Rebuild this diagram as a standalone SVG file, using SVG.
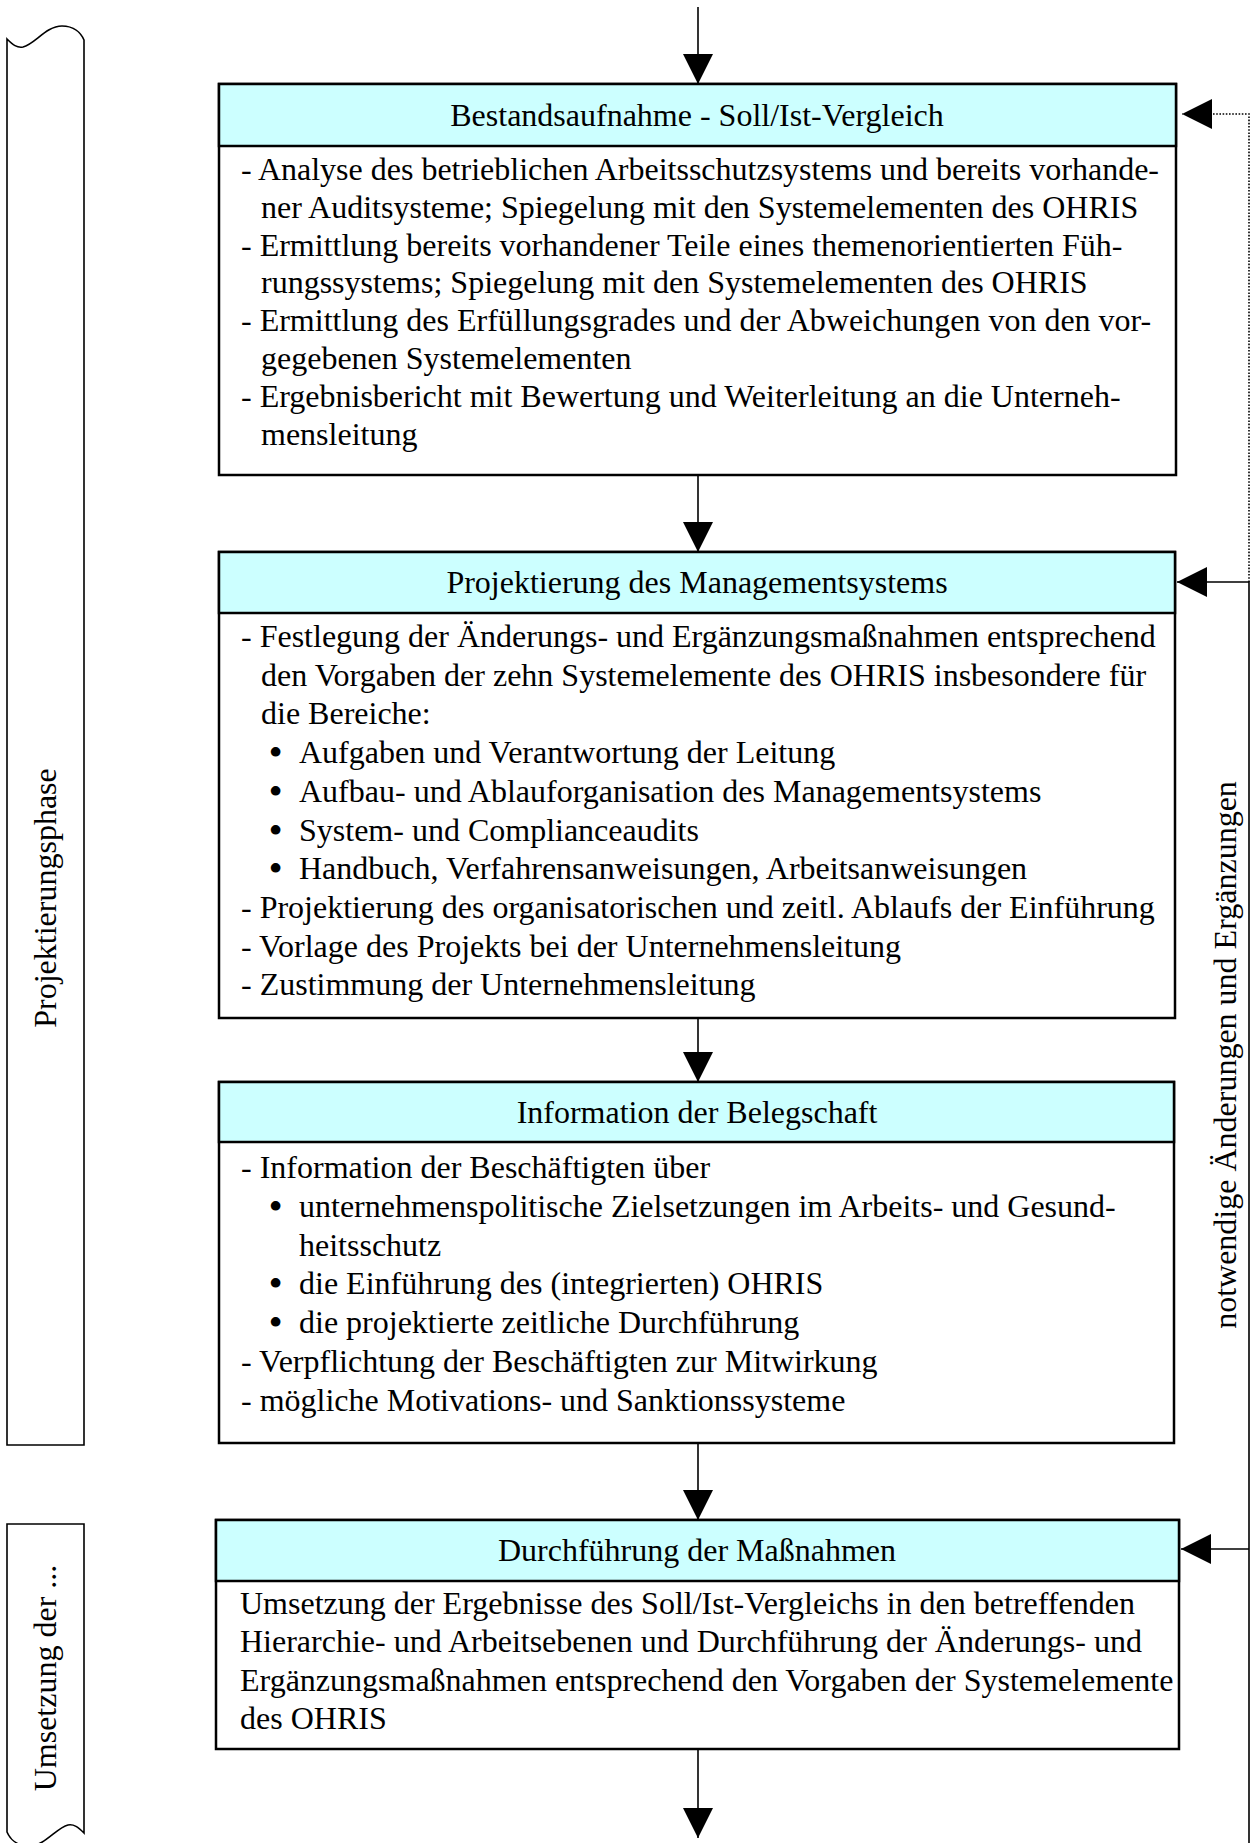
<svg xmlns="http://www.w3.org/2000/svg" width="1256" height="1843" viewBox="0 0 1256 1843">
  <style>
    text { font-family: "Liberation Serif", "Times New Roman", serif; font-size: 32px; fill: #000; }
    .hd { text-anchor: middle; }
    .side { text-anchor: middle; }
    .bul { stroke: #000; stroke-width: 2; }
    .frame { fill: #fff; stroke: #000; stroke-width: 2.5; }
    .head { fill: #ccffff; stroke: #000; stroke-width: 2.5; }
    .bracket { fill: none; stroke: #000; stroke-width: 1.6; }
    .conn { fill: none; stroke: #000; stroke-width: 1.6; }
    .dotted { fill: none; stroke: #000; stroke-width: 1.6; stroke-dasharray: 1.6 1.6; }
  </style>
  <defs>
    <marker id="arrow" markerUnits="userSpaceOnUse" markerWidth="30" markerHeight="30" viewBox="0 0 30 30" refX="30" refY="15" orient="auto">
      <path d="M0,0 L30,15 L0,30 Z" fill="#000"/>
    </marker>
  </defs>

  <rect width="1256" height="1843" fill="#fff"/>

  <!-- phase brackets on the left -->
  <g id="phase-projektierung">
    <path class="bracket" d="M7,39 C13,45 17,48 23,47 C35,44 46,26 62,26 C74,26 81,33 84,40 L84,1445 L7,1445 Z"/>
    <text class="side" transform="translate(56,898) rotate(-90)">Projektierungsphase</text>
  </g>
  <g id="phase-umsetzung">
    <path class="bracket" d="M7,1524 L84,1524 L84,1833 C78,1827 74,1824 68,1825 C56,1828 45,1846 29,1846 C17,1846 10,1839 7,1832 Z"/>
    <text class="side" transform="translate(56,1678) rotate(-90)">Umsetzung der ...</text>
  </g>

  <!-- connectors -->
  <g id="connectors">
    <line class="conn" x1="698" y1="7" x2="698" y2="84" marker-end="url(#arrow)"/>
    <line class="conn" x1="698" y1="475" x2="698" y2="552" marker-end="url(#arrow)"/>
    <line class="conn" x1="698" y1="1018" x2="698" y2="1082" marker-end="url(#arrow)"/>
    <line class="conn" x1="698" y1="1443" x2="698" y2="1520" marker-end="url(#arrow)"/>
    <line class="conn" x1="698" y1="1749" x2="698" y2="1838" marker-end="url(#arrow)"/>
    <!-- feedback loop on the right -->
    <path class="dotted" d="M1249,582 L1249,114 L1182,114" marker-end="url(#arrow)"/>
    <path class="conn" d="M1249,1843 L1249,582 L1177,582" marker-end="url(#arrow)"/>
    <line class="conn" x1="1249" y1="1549" x2="1181" y2="1549" marker-end="url(#arrow)"/>
    <text class="side" transform="translate(1236,1055) rotate(-90)">notwendige Änderungen und Ergänzungen</text>
  </g>

  <!-- step 1 -->
  <g id="bestandsaufnahme">
    <rect class="frame" x="219" y="84" width="957" height="391"/>
    <rect class="head" x="219" y="84" width="957" height="62"/>
    <text class="hd" x="697" y="126">Bestandsaufnahme - Soll/Ist-Vergleich</text>
    <text x="241" y="180">- Analyse des betrieblichen Arbeitsschutzsystems und bereits vorhande-</text>
    <text x="261" y="218">ner Auditsysteme; Spiegelung mit den Systemelementen des OHRIS</text>
    <text x="241" y="256">- Ermittlung bereits vorhandener Teile eines themenorientierten Füh-</text>
    <text x="261" y="293">rungssystems; Spiegelung mit den Systemelementen des OHRIS</text>
    <text x="241" y="331">- Ermittlung des Erfüllungsgrades und der Abweichungen von den vor-</text>
    <text x="261" y="369">gegebenen Systemelementen</text>
    <text x="241" y="407">- Ergebnisbericht mit Bewertung und Weiterleitung an die Unterneh-</text>
    <text x="261" y="445">mensleitung</text>
  </g>

  <!-- step 2 -->
  <g id="projektierung">
    <rect class="frame" x="219" y="552" width="956" height="466"/>
    <rect class="head" x="219" y="552" width="956" height="61"/>
    <text class="hd" x="697" y="593">Projektierung des Managementsystems</text>
    <text x="241" y="647">- Festlegung der Änderungs- und Ergänzungsmaßnahmen entsprechend</text>
    <text x="261" y="686">den Vorgaben der zehn Systemelemente des OHRIS insbesondere für</text>
    <text x="261" y="724">die Bereiche:</text>
    <text x="270" y="763"><tspan class="bul">•</tspan><tspan x="299">Aufgaben und Verantwortung der Leitung</tspan></text>
    <text x="270" y="802"><tspan class="bul">•</tspan><tspan x="299">Aufbau- und Ablauforganisation des Managementsystems</tspan></text>
    <text x="270" y="841"><tspan class="bul">•</tspan><tspan x="299">System- und Complianceaudits</tspan></text>
    <text x="270" y="879"><tspan class="bul">•</tspan><tspan x="299">Handbuch, Verfahrensanweisungen, Arbeitsanweisungen</tspan></text>
    <text x="241" y="918">- Projektierung des organisatorischen und zeitl. Ablaufs der Einführung</text>
    <text x="241" y="957">- Vorlage des Projekts bei der Unternehmensleitung</text>
    <text x="241" y="995">- Zustimmung der Unternehmensleitung</text>
  </g>

  <!-- step 3 -->
  <g id="information">
    <rect class="frame" x="219" y="1082" width="955" height="361"/>
    <rect class="head" x="219" y="1082" width="955" height="60"/>
    <text class="hd" x="697" y="1123">Information der Belegschaft</text>
    <text x="241" y="1178">- Information der Beschäftigten über</text>
    <text x="270" y="1217"><tspan class="bul">•</tspan><tspan x="299">unternehmenspolitische Zielsetzungen im Arbeits- und Gesund-</tspan></text>
    <text x="299" y="1256">heitsschutz</text>
    <text x="270" y="1294"><tspan class="bul">•</tspan><tspan x="299">die Einführung des (integrierten) OHRIS</tspan></text>
    <text x="270" y="1333"><tspan class="bul">•</tspan><tspan x="299">die projektierte zeitliche Durchführung</tspan></text>
    <text x="241" y="1372">- Verpflichtung der Beschäftigten zur Mitwirkung</text>
    <text x="241" y="1411">- mögliche Motivations- und Sanktionssysteme</text>
  </g>

  <!-- step 4 -->
  <g id="durchfuehrung">
    <rect class="frame" x="216" y="1520" width="963" height="229"/>
    <rect class="head" x="216" y="1520" width="963" height="61"/>
    <text class="hd" x="697" y="1561">Durchführung der Maßnahmen</text>
    <text x="240" y="1614">Umsetzung der Ergebnisse des Soll/Ist-Vergleichs in den betreffenden</text>
    <text x="240" y="1652">Hierarchie- und Arbeitsebenen und Durchführung der Änderungs- und</text>
    <text x="240" y="1691">Ergänzungsmaßnahmen entsprechend den Vorgaben der Systemelemente</text>
    <text x="240" y="1729">des OHRIS</text>
  </g>
</svg>
